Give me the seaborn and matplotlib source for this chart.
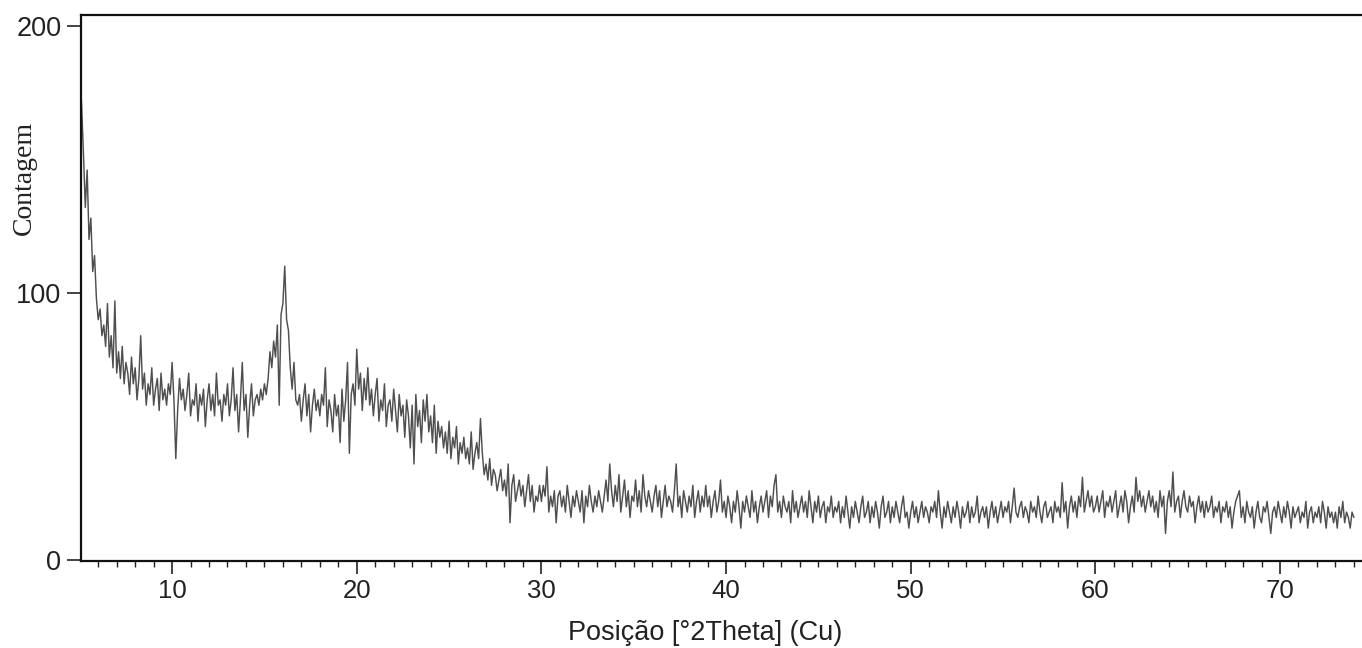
import numpy as np
import pandas as pd
import matplotlib
matplotlib.use("Agg")
import matplotlib.pyplot as plt
from matplotlib.ticker import MultipleLocator
import seaborn as sns

# ---- data (counts, 0.1 deg steps from 5.0 deg) ----
theta_start = 5.0
theta_step = 0.1

counts_05_15 = [
    185, 170, 152, 132, 146, 120, 128, 108, 114, 98,
    90, 94, 84, 88, 80, 96, 76, 84, 72, 97,
    70, 78, 68, 80, 66, 74, 70, 62, 76, 66,
    72, 60, 68, 84, 64, 70, 58, 66, 62, 72,
    58, 64, 68, 56, 70, 60, 64, 58, 66, 62,
    74, 60, 38, 56, 68, 60, 64, 56, 62, 70,
    54, 60, 58, 66, 52, 62, 58, 64, 50, 60,
    66, 56, 62, 54, 70, 58, 60, 52, 62, 58,
    66, 54, 60, 72, 56, 62, 48, 60, 74, 56,
    62, 46, 58, 66, 54, 60, 62, 58, 64, 60,
]
counts_15_30 = [
    66, 62, 68, 78, 72, 82, 76, 88, 58, 92,
    96, 110, 90, 86, 72, 64, 74, 60, 58, 62,
    52, 60, 66, 54, 62, 48, 58, 64, 56, 60,
    54, 62, 58, 72, 50, 60, 56, 48, 62, 54,
    58, 44, 64, 52, 60, 74, 40, 62, 66, 58,
    79, 64, 70, 56, 68, 60, 72, 58, 64, 54,
    62, 68, 52, 60, 56, 66, 50, 58, 60, 52,
    64, 56, 48, 62, 54, 58, 46, 60, 54, 42,
    58, 36, 62, 50, 56, 44, 60, 52, 62, 48,
    54, 44, 58, 40, 52, 46, 50, 42, 48, 40,
    52, 38, 46, 42, 50, 36, 44, 40, 46, 38,
    42, 36, 48, 34, 40, 44, 38, 53, 40, 32,
    36, 30, 38, 28, 34, 32, 26, 30, 34, 26,
    30, 24, 36, 14, 28, 32, 22, 26, 30, 24,
    28, 20, 26, 32, 22, 28, 18, 24, 22, 28,
]
counts_30_50 = [
    22, 28, 24, 35, 18, 24, 20, 26, 14, 24,
    26, 20, 24, 18, 28, 22, 16, 24, 20, 26,
    22, 18, 26, 14, 24, 20, 28, 22, 18, 24,
    20, 26, 22, 18, 24, 30, 22, 36, 26, 20,
    28, 22, 32, 18, 24, 30, 20, 26, 16, 24,
    22, 30, 20, 26, 18, 32, 24, 20, 26, 22,
    18, 24, 28, 20, 26, 16, 22, 28, 20, 24,
    22, 18, 26, 36, 20, 24, 16, 26, 22, 18,
    24, 20, 28, 16, 22, 26, 18, 24, 20, 28,
    20, 24, 16, 22, 26, 18, 22, 30, 18, 22,
    16, 24, 20, 14, 22, 18, 26, 20, 12, 22,
    18, 24, 20, 16, 26, 18, 22, 14, 20, 24,
    18, 22, 26, 16, 24, 20, 28, 32, 18, 22,
    16, 24, 20, 18, 22, 14, 26, 18, 22, 16,
    20, 24, 18, 22, 16, 26, 20, 14, 22, 18,
    24, 16, 20, 22, 14, 20, 18, 24, 16, 20,
    18, 22, 14, 20, 16, 24, 18, 12, 20, 16,
    22, 18, 14, 20, 24, 16, 18, 22, 14, 20,
    16, 22, 18, 12, 20, 24, 16, 18, 22, 14,
    20, 16, 22, 18, 14, 20, 24, 16, 18, 12,
]
counts_50_74 = [
    18, 22, 16, 20, 14, 18, 22, 16, 20, 18,
    14, 20, 18, 22, 16, 26, 18, 12, 20, 16,
    22, 18, 14, 20, 16, 22, 18, 12, 20, 16,
    18, 22, 14, 20, 16, 18, 24, 14, 18, 20,
    16, 20, 12, 18, 22, 16, 20, 14, 18, 22,
    16, 20, 18, 22, 14, 20, 27, 18, 16, 20,
    22, 16, 20, 18, 14, 22, 18, 20, 16, 24,
    18, 14, 20, 22, 16, 18, 20, 14, 22, 18,
    20, 16, 29, 18, 22, 12, 20, 24, 18, 22,
    16, 24, 20, 31, 18, 22, 26, 20, 24, 18,
    20, 24, 18, 22, 26, 16, 22, 20, 24, 18,
    22, 26, 16, 20, 24, 18, 26, 22, 14, 20,
    24, 18, 31, 22, 26, 20, 24, 18, 22, 26,
    20, 24, 18, 22, 16, 26, 20, 24, 10, 22,
    26, 20, 33, 18, 22, 24, 16, 22, 26, 20,
    18, 24, 20, 22, 14, 20, 24, 18, 22, 16,
    22, 18, 20, 24, 16, 20, 18, 22, 14, 20,
    18, 22, 16, 20, 12, 18, 22, 24, 26, 16,
    20, 14, 22, 18, 16, 20, 12, 18, 22, 16,
    14, 20, 18, 22, 16, 10, 18, 20, 16, 22,
    18, 14, 20, 16, 22, 18, 12, 20, 16, 18,
    20, 14, 18, 16, 22, 12, 18, 20, 14, 18,
    16, 20, 14, 22, 18, 12, 20, 16, 18, 14,
    18, 12, 20, 16, 22, 14, 18, 16, 12, 18,
    16,
]

x_major_ticks = [10, 20, 30, 40, 50, 60, 70]
y_ticks = [0, 100, 200]
x_label = "Posição [°2Theta] (Cu)"
y_label = "Contagem"

counts = counts_05_15 + counts_15_30 + counts_30_50 + counts_50_74
theta = np.round(theta_start + theta_step * np.arange(len(counts)), 2)
df = pd.DataFrame({"theta": theta, "counts": counts})

# ---- figure ----
sns.set_style("white")
plt.rcParams["font.family"] = ["Liberation Sans", "DejaVu Sans"]

W, H = 1362, 648
fig = plt.figure(figsize=(W / 100, H / 100), dpi=100)
left_px, right_px, top_px, bottom_px = 80.7, 1362, 15, 561
ax = fig.add_axes([left_px / W, 1 - bottom_px / H,
                   (right_px - left_px) / W, (bottom_px - top_px) / H])

sns.lineplot(data=df, x="theta", y="counts", ax=ax, color="#4f4f4f",
             linewidth=1.05, estimator=None, sort=False)

ax.set_xlim(5.05, 74.44)
ax.set_ylim(-0.3, 204)

for side in ["top", "left", "bottom"]:
    ax.spines[side].set_visible(True)
    ax.spines[side].set_color("#111111")
    ax.spines[side].set_linewidth(1.6)
ax.spines["right"].set_visible(False)

ax.set_xticks(x_major_ticks)
ax.xaxis.set_minor_locator(MultipleLocator(1))
ax.set_yticks(y_ticks)
ax.tick_params(axis="x", which="major", direction="out", length=9, width=1.2,
               labelsize=18.5, pad=4, color="#222222", labelcolor="#222222",
               bottom=True)
ax.tick_params(axis="x", which="minor", direction="out", length=4.5, width=1.0,
               color="#222222", bottom=True)
ax.tick_params(axis="y", which="major", direction="out", length=10, width=1.2,
               labelsize=19.5, pad=4, color="#222222", labelcolor="#222222",
               left=True)

ax.set_xlabel(x_label, fontsize=19.5, color="#222222")
ax.xaxis.set_label_coords(0.487, -0.108)
ax.set_ylabel(y_label, fontsize=20, color="#222222",
              family=["Liberation Serif", "DejaVu Serif"])
ax.yaxis.set_label_coords(-0.0341, 0.7015)

fig.savefig("out.png", dpi=100)
